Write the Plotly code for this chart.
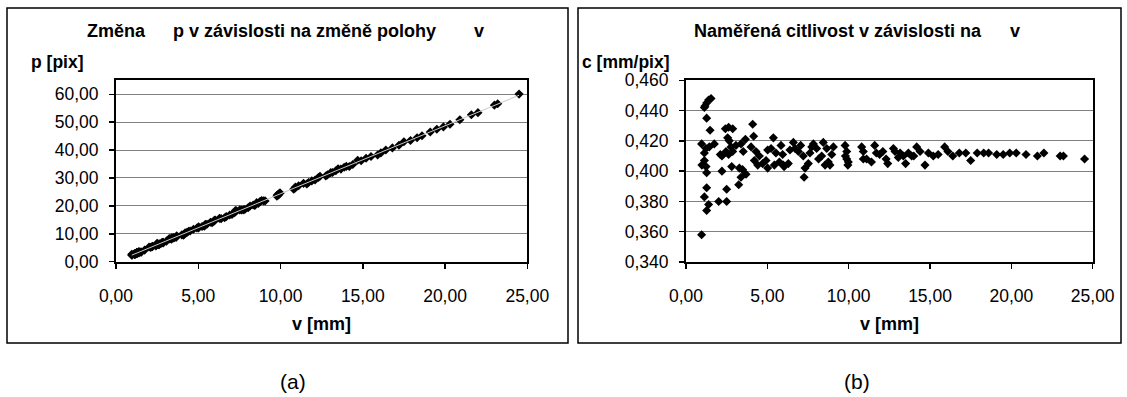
import numpy as np
import plotly.graph_objects as go

W, H = 1127, 397

# ---- data ----
v_mm = [0.96, 0.96, 0.98, 1.13, 1.17, 1.27, 1.39, 1.54, 1.13, 1.13, 1.13, 1.23, 1.23, 1.27, 1.27,
        1.27, 1.27, 1.39, 1.43, 1.48, 1.74, 2.01, 2.11, 2.21, 2.21, 2.42, 2.46, 2.50, 2.50, 2.56,
        2.62, 2.62, 2.66, 2.77, 2.81, 2.87, 2.87, 3.07, 3.24, 3.28, 3.38, 3.38, 3.48, 3.52, 3.65,
        3.69, 4.00, 4.10, 4.16, 4.20, 4.30, 4.41, 4.51, 4.71, 4.92, 5.02, 5.02, 5.23, 5.37, 5.43,
        5.53, 5.74, 5.84, 5.94, 5.98, 6.03, 6.29, 6.39, 6.60, 6.70, 6.91, 7.05, 7.21, 7.26, 7.32,
        7.52, 7.62, 7.73, 7.83, 8.03, 8.15, 8.34, 8.44, 8.55, 8.65, 8.75, 8.85, 8.96, 9.06, 9.78,
        9.80, 9.88, 9.88, 9.98, 9.95, 10.8, 10.9, 10.9, 11.1, 11.4, 11.6, 11.7, 11.9, 12.1, 12.3,
        12.4, 12.75, 12.85, 13.05, 13.16, 13.36, 13.5, 13.67, 13.87, 14.0, 14.18, 14.39, 14.69,
        14.9, 15.2, 15.5, 15.9, 16.1, 16.4, 16.8, 17.2, 17.5, 17.9, 18.3, 18.6, 19.1, 19.5, 19.9,
        20.3, 20.9, 21.6, 22.0, 23.0, 23.2, 24.5]

c_mm_pix = [0.358, 0.418, 0.404, 0.442, 0.443, 0.445, 0.447, 0.448, 0.412, 0.407, 0.383, 0.415,
            0.403, 0.435, 0.399, 0.389, 0.374, 0.378, 0.416, 0.427, 0.418, 0.380, 0.411, 0.410,
            0.400, 0.428, 0.413, 0.388, 0.380, 0.422, 0.429, 0.411, 0.420, 0.416, 0.403, 0.428,
            0.413, 0.417, 0.391, 0.402, 0.418, 0.396, 0.401, 0.413, 0.421, 0.398, 0.416, 0.431,
            0.423, 0.407, 0.413, 0.404, 0.410, 0.405, 0.407, 0.414, 0.402, 0.415, 0.422, 0.404,
            0.412, 0.406, 0.417, 0.411, 0.404, 0.403, 0.405, 0.414, 0.419, 0.415, 0.413, 0.417,
            0.410, 0.396, 0.402, 0.405, 0.412, 0.416, 0.418, 0.415, 0.408, 0.410, 0.419, 0.404,
            0.415, 0.406, 0.404, 0.411, 0.416, 0.417, 0.410, 0.413, 0.408, 0.406, 0.404, 0.416,
            0.413, 0.408, 0.408, 0.406, 0.417, 0.412, 0.411, 0.413, 0.408, 0.405, 0.415, 0.413,
            0.409, 0.412, 0.410, 0.405, 0.412, 0.410, 0.410, 0.416, 0.413, 0.404, 0.412, 0.410,
            0.411, 0.416, 0.413, 0.410, 0.412, 0.412, 0.407, 0.412, 0.412, 0.412, 0.411, 0.411,
            0.412, 0.412, 0.411, 0.410, 0.412, 0.410, 0.410, 0.408]

p_pix = [2.68, 2.30, 2.43, 2.56, 2.64, 2.85, 3.11, 3.44, 2.74, 2.78, 2.95, 2.96, 3.05, 2.92, 3.18,
         3.26, 3.40, 3.68, 3.44, 3.47, 4.16, 5.29, 5.13, 5.39, 5.53, 5.65, 5.96, 6.44, 6.58, 6.07,
         6.11, 6.37, 6.33, 6.66, 6.97, 6.71, 6.95, 7.36, 8.29, 8.16, 8.09, 8.54, 8.68, 8.52, 8.67,
         9.27, 9.62, 9.51, 9.83, 10.32, 10.41, 10.92, 11.00, 11.63, 12.09, 12.13, 12.49, 12.60,
         12.73, 13.44, 13.42, 14.14, 14.00, 14.45, 14.80, 14.96, 15.53, 15.43, 15.75, 16.14, 16.73,
         16.91, 17.59, 18.33, 18.21, 18.57, 18.50, 18.58, 18.73, 19.35, 19.98, 20.34, 20.14, 21.16,
         20.84, 21.55, 21.91, 21.80, 21.78, 23.45, 23.90, 23.92, 24.22, 24.58, 24.63, 25.96, 26.39,
         26.72, 27.21, 28.08, 27.82, 28.40, 28.95, 29.30, 30.15, 30.62, 30.72, 31.11, 31.91, 31.94,
         32.59, 33.33, 33.18, 33.83, 34.15, 34.09, 34.84, 36.36, 36.17, 37.07, 37.71, 38.22, 38.98,
         40.00, 40.78, 41.75, 43.00, 43.45, 44.42, 45.15, 46.47, 47.45, 48.30, 49.27, 50.85, 52.68,
         53.40, 56.10, 56.59, 60.05]

title_a = ["Změna", "p v závislosti na změně polohy", "v"]
title_b = ["Naměřená citlivost v závislosti na", "v"]

# linear trendline of p(v)
k, q = np.polyfit(v_mm, p_pix, 1)
v_tr = [min(v_mm), max(v_mm)]
p_tr = [k * x + q for x in v_tr]

FONT = "Liberation Sans, Arial, sans-serif"

def px(x):
    return x / W

def py(y):
    return 1 - y / H

fig = go.Figure()
mk = dict(symbol="diamond", size=7, color="black", line=dict(width=0))
fig.add_trace(go.Scatter(x=v_mm, y=p_pix, mode="markers", marker=mk, xaxis="x", yaxis="y",
                         showlegend=False, cliponaxis=False))
fig.add_trace(go.Scatter(x=v_tr, y=p_tr, mode="lines", line=dict(color="#c8c8c8", width=1),
                         xaxis="x", yaxis="y", showlegend=False))
fig.add_trace(go.Scatter(x=v_mm, y=c_mm_pix, mode="markers", marker=mk, xaxis="x2", yaxis="y2",
                         showlegend=False, cliponaxis=False))

tickfont = dict(family=FONT, size=17.5, color="black")
common = dict(showline=True, linecolor="black", linewidth=2, mirror=True, ticks="outside",
              ticklen=5, tickwidth=1.5, tickcolor="black", zeroline=False, tickfont=tickfont,
              fixedrange=True, automargin=False)

fig.update_layout(
    template="none",
    width=W, height=H, margin=dict(l=0, r=0, t=0, b=0, pad=0, autoexpand=False),
    paper_bgcolor="white", plot_bgcolor="white",
    separators=", ",
    showlegend=False,
    font=dict(family=FONT, size=17, color="black"),
    xaxis=dict(domain=[px(116), px(527.3)], range=[0, 25], dtick=5, tick0=0, tickformat=".2f",
               showgrid=False, anchor="y", ticklabelstandoff=12, **common),
    yaxis=dict(domain=[py(261.7), py(80.3)], range=[0, 65], dtick=10, tick0=0, tickformat=".2f",
               showgrid=True, gridcolor="#808080", gridwidth=1, anchor="x",
               ticklabelstandoff=7, **common),
    xaxis2=dict(domain=[px(686), px(1092.7)], range=[0, 25], dtick=5, tick0=0, tickformat=".2f",
                showgrid=False, anchor="y2", ticklabelstandoff=12, **common),
    yaxis2=dict(domain=[py(262), py(80.3)], range=[0.34, 0.46], dtick=0.02, tick0=0.34,
                tickformat=".3f", showgrid=True, gridcolor="#808080", gridwidth=1, anchor="x2",
                ticklabelstandoff=7, **common),
)

# outer boxes
for x0, x1 in [(7, 568), (578, 1121)]:
    fig.add_shape(type="rect", xref="paper", yref="paper", x0=px(x0), x1=px(x1),
                  y0=py(343), y1=py(8), line=dict(color="black", width=1.5),
                  fillcolor="rgba(0,0,0,0)", layer="below")

def ann(text, x, y, xanchor="center", bold=True, size=18):
    fig.add_annotation(text=f"<b>{text}</b>" if bold else text, x=px(x), y=py(y),
                       xref="paper", yref="paper", xanchor=xanchor, yanchor="middle",
                       showarrow=False, font=dict(family=FONT, size=size, color="black"))

# titles
ann(title_a[0], 116.5, 31)
ann(title_a[1], 304, 31)
ann(title_a[2], 479, 31)
ann(title_b[0], 838, 31)
ann(title_b[1], 1014.5, 31)
# axis titles
ann("p [pix]", 29, 62, xanchor="left", size=17.5)
ann("c [mm/pix]", 580, 62, xanchor="left", size=17.5)
ann("v [mm]", 321.5, 324)
ann("v [mm]", 889, 324)
# panel labels
ann("(a)", 293, 381, bold=False, size=21)
ann("(b)", 857, 381, bold=False, size=21)

fig.write_html("out.html", config={"displayModeBar": False, "staticPlot": True},
               post_script="document.body.style.margin='0';document.body.style.padding='0';")
